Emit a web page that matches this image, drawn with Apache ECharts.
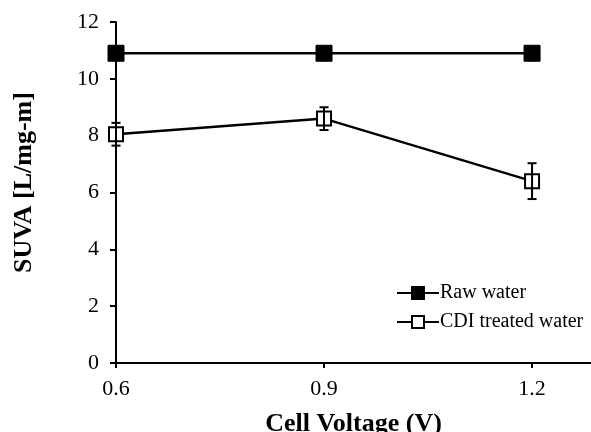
<!DOCTYPE html>
<html>
<head>
<meta charset="utf-8">
<script src="https://cdn.jsdelivr.net/npm/echarts@6/dist/echarts.min.js"></script>
<style>
  html, body { margin: 0; padding: 0; background: #fff; }
  #chart { width: 591px; height: 432px; }
</style>
</head>
<body>
<div id="chart"></div>
<script>
// data
var voltages = [0.6, 0.9, 1.2];
var rawWater = [10.9, 10.9, 10.9];
var cdiWater = [8.05, 8.6, 6.4];
var cdiErr = [0.4, 0.4, 0.63];
var yTicks = [0, 2, 4, 6, 8, 10, 12];

(function () {
  var myChart = echarts.init(document.getElementById('chart'));
  var font = '"Liberation Serif", "Times New Roman", serif';

  var rawData = voltages.map(function (v, i) { return [v, rawWater[i]]; });
  var cdiData = voltages.map(function (v, i) { return [v, cdiWater[i]]; });
  var errData = voltages.map(function (v, i) {
    return [v, cdiWater[i] - cdiErr[i], cdiWater[i] + cdiErr[i]];
  });

  var option = {
    animation: false,
    backgroundColor: '#fff',
    grid: {
      left: 116,
      right: 0,
      top: 22,
      bottom: 69,
      outerBoundsMode: 'none',
      containLabel: false
    },
    legend: {
      data: ['Raw water', 'CDI treated water'],
      orient: 'vertical',
      left: 391,
      top: 278,
      itemWidth: 42,
      itemHeight: 15,
      itemGap: 9,
      textStyle: { fontFamily: font, fontSize: 20, color: '#000', padding: [0, 0, 0, -4] }
    },
    xAxis: {
      type: 'value',
      min: 0.6,
      max: 1.285,
      interval: 0.3,
      name: 'Cell Voltage (V)',
      nameLocation: 'middle',
      nameGap: 48,
      nameTextStyle: { fontFamily: font, fontSize: 26, fontWeight: 'bold', color: '#000' },
      axisLine: { lineStyle: { color: '#000', width: 2 } },
      axisTick: { show: true, length: 5, lineStyle: { color: '#000', width: 2 } },
      axisLabel: {
        fontFamily: font, fontSize: 22, color: '#000', margin: 15,
        formatter: function (v) { return v.toFixed(1); },
        showMaxLabel: false
      },
      splitLine: { show: false }
    },
    yAxis: {
      type: 'value',
      min: yTicks[0],
      max: yTicks[yTicks.length - 1],
      interval: 2,
      name: 'SUVA [L/mg-m]',
      nameLocation: 'middle',
      nameGap: 79,
      nameTextStyle: { fontFamily: font, fontSize: 26, fontWeight: 'bold', color: '#000', padding: [0, 0, 0, 20] },
      axisLine: { show: true, lineStyle: { color: '#000', width: 2 } },
      axisTick: { show: true, length: 6, lineStyle: { color: '#000', width: 2 } },
      axisLabel: { fontFamily: font, fontSize: 22, color: '#000', margin: 17 },
      splitLine: { show: false }
    },
    series: [
      {
        name: 'Raw water',
        type: 'line',
        data: rawData,
        symbol: 'rect',
        symbolSize: 16,
        lineStyle: { color: '#000', width: 2.5 },
        itemStyle: { color: '#000', borderColor: '#000', borderWidth: 1 },
        z: 3
      },
      {
        name: 'CDI treated water',
        type: 'line',
        data: cdiData,
        symbol: 'rect',
        symbolSize: 14,
        lineStyle: { color: '#000', width: 2.5 },
        itemStyle: { color: '#fff', borderColor: '#000', borderWidth: 2 },
        z: 3
      },
      {
        name: 'err',
        type: 'custom',
        data: errData,
        z: 4,
        renderItem: function (params, api) {
          var x = api.value(0);
          var lo = api.coord([x, api.value(1)]);
          var hi = api.coord([x, api.value(2)]);
          var w = 4.5;
          var st = { stroke: '#000', lineWidth: 2 };
          return {
            type: 'group',
            children: [
              { type: 'line', shape: { x1: lo[0], y1: lo[1], x2: hi[0], y2: hi[1] }, style: st },
              { type: 'line', shape: { x1: lo[0] - w, y1: lo[1], x2: lo[0] + w, y2: lo[1] }, style: st },
              { type: 'line', shape: { x1: hi[0] - w, y1: hi[1], x2: hi[0] + w, y2: hi[1] }, style: st }
            ]
          };
        }
      }
    ]
  };
  myChart.setOption(option);
  window.addEventListener('resize', function () {
    myChart.resize();
  });
})();
</script>
</body>
</html>
